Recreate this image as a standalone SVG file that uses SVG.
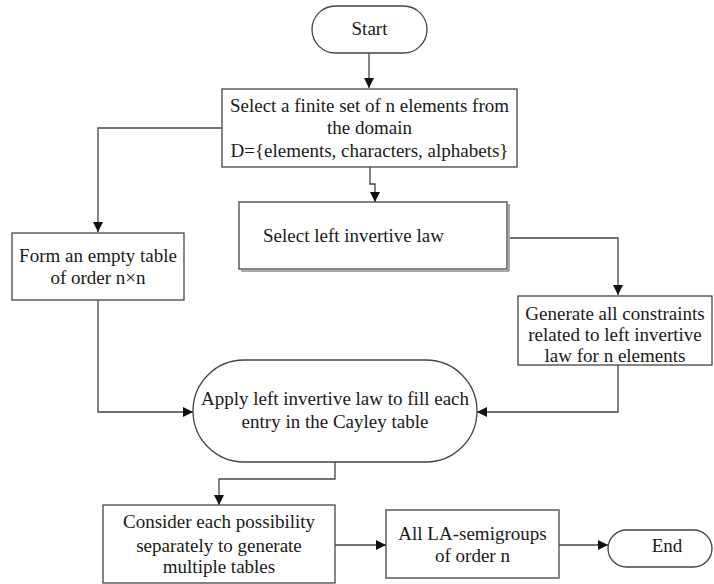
<svg xmlns="http://www.w3.org/2000/svg" width="714" height="584" viewBox="0 0 714 584">
  <defs>
    <marker id="arrow" viewBox="0 0 10 10" refX="10" refY="5" markerWidth="10" markerHeight="10" markerUnits="userSpaceOnUse" orient="auto">
      <path d="M0,0 L10,5 L0,10 z" fill="#111"/>
    </marker>
    <style>
      .box { fill: #fff; stroke: #444; stroke-width: 1.3; }
      .shadow { fill: none; stroke: #555; stroke-width: 1; }
      .txt { font-size: 19px; fill: #1a1a1a; text-anchor: middle; }
      .edge { fill: none; stroke: #444; stroke-width: 1.3; marker-end: url(#arrow); }
    </style>
  </defs>
  <rect width="714" height="584" fill="#fff"/>

  <g id="connectors">
    <path class="edge" d="M369,53 V88"/>
    <path class="edge" d="M222,128 H98 V232"/>
    <path class="edge" d="M370,167 V184 H375 V202"/>
    <path class="edge" d="M510,238 H618 V295"/>
    <path class="edge" d="M618,365 V412 H477"/>
    <path class="edge" d="M98,300 V412 H193"/>
    <path class="edge" d="M335,462 V479 H219 V505"/>
    <path class="edge" d="M335,545 H386"/>
    <path class="edge" d="M559,545 H608"/>
  </g>

  <g font-family="Liberation Serif, Times New Roman, serif">
    <g id="start">
      <rect class="box" x="312" y="6" width="115" height="47" rx="23.5"/>
      <text class="txt" x="369.5" y="35">Start</text>
    </g>

    <g id="select-set">
      <rect class="box" x="222" y="89" width="295" height="78"/>
      <text class="txt" x="369.5" y="112">Select a finite set of n elements from</text>
      <text class="txt" x="369.5" y="134">the domain</text>
      <text class="txt" x="369.5" y="157">D={elements, characters, alphabets}</text>
    </g>

    <g id="select-law">
      <path class="shadow" d="M241,271 H509 V204"/>
      <rect class="box" x="239" y="202" width="268" height="67"/>
      <text class="txt" x="263" y="242" style="text-anchor:start">Select left invertive law</text>
    </g>

    <g id="empty-table">
      <rect class="box" x="12" y="233" width="172" height="67"/>
      <text class="txt" x="98" y="262">Form an empty table</text>
      <text class="txt" x="98" y="284">of order n×n</text>
    </g>

    <g id="constraints">
      <rect class="box" x="518" y="296" width="194" height="69"/>
      <text class="txt" x="615" y="320">Generate all constraints</text>
      <text class="txt" x="615" y="341">related to left invertive</text>
      <text class="txt" x="615" y="362">law for n elements</text>
    </g>

    <g id="apply-law">
      <rect class="box" x="193" y="360" width="284" height="102" rx="51"/>
      <text class="txt" x="335" y="405">Apply left invertive law to fill each</text>
      <text class="txt" x="335" y="428">entry in the Cayley table</text>
    </g>

    <g id="possibilities">
      <rect class="box" x="103" y="505" width="232" height="78"/>
      <text class="txt" x="219" y="528">Consider each possibility</text>
      <text class="txt" x="219" y="552">separately to generate</text>
      <text class="txt" x="219" y="573">multiple tables</text>
    </g>

    <g id="all-semigroups">
      <rect class="box" x="386" y="510" width="173" height="68"/>
      <text class="txt" x="472.5" y="540">All LA-semigroups</text>
      <text class="txt" x="472.5" y="562">of order n</text>
    </g>

    <g id="end">
      <rect class="box" x="608" y="530" width="104" height="37" rx="18.5"/>
      <text class="txt" x="667" y="552">End</text>
    </g>
  </g>
</svg>
